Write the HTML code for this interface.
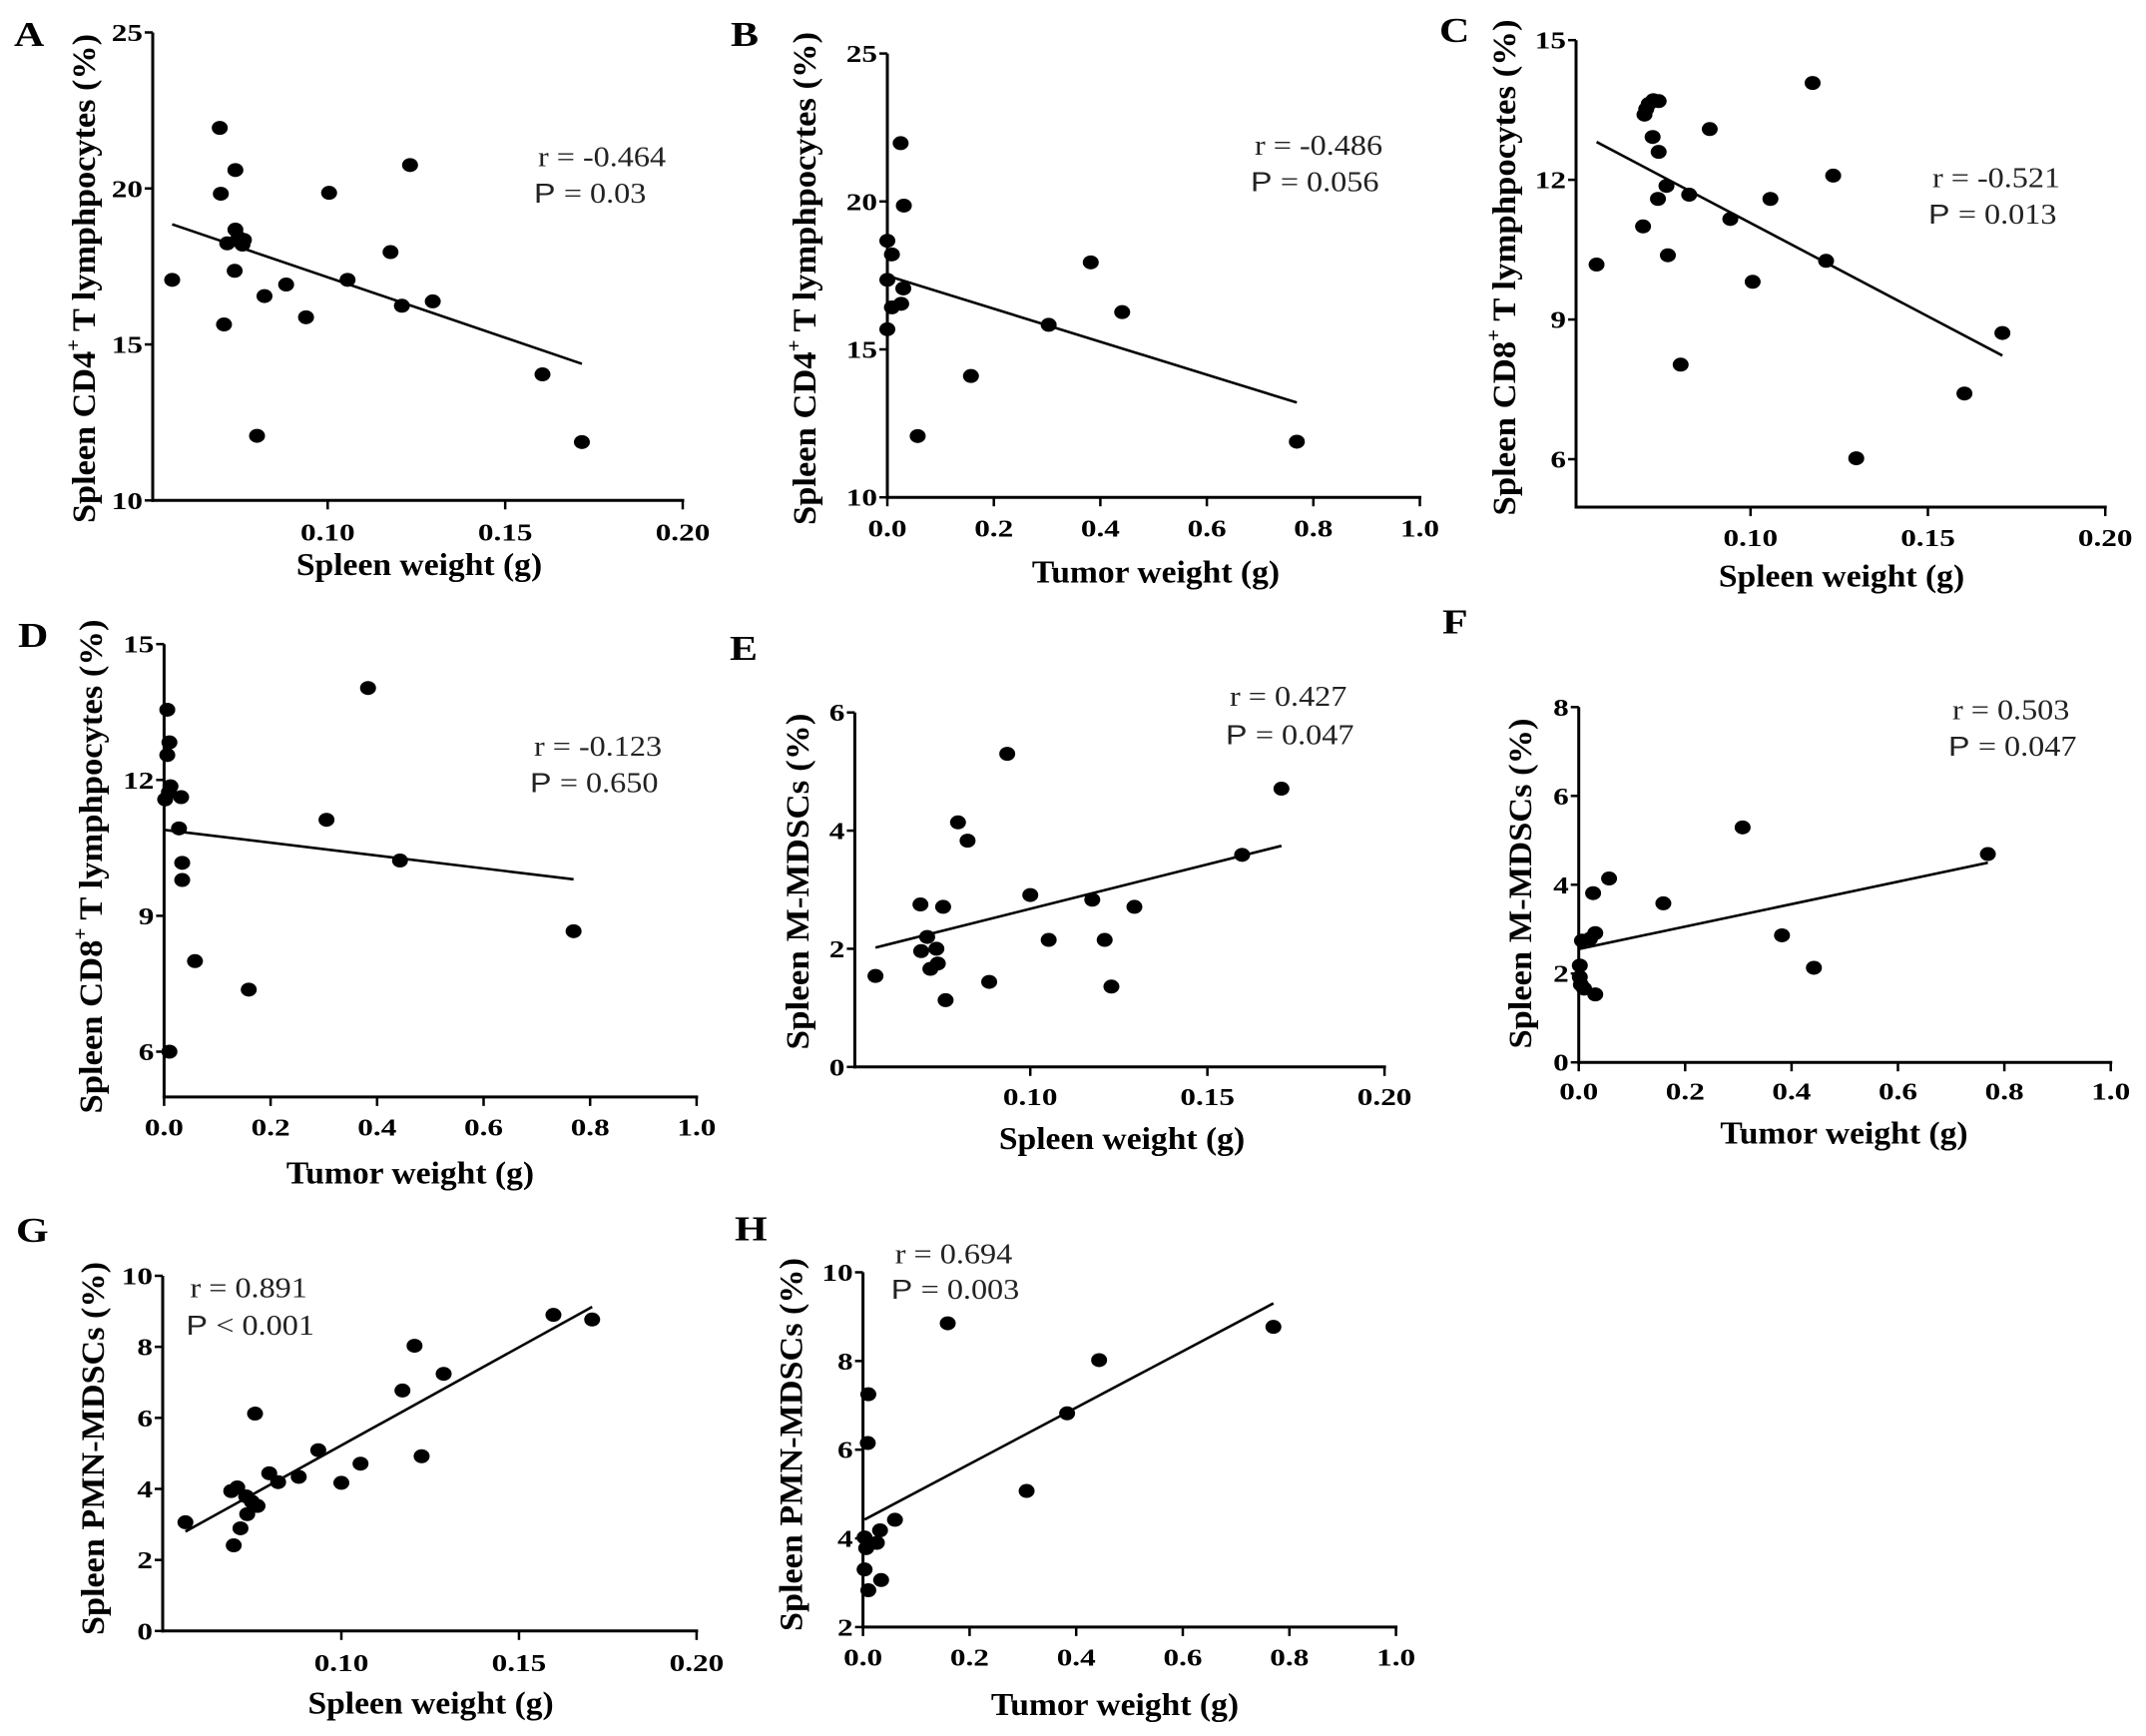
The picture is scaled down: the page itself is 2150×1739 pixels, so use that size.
<!DOCTYPE html>
<html><head><meta charset="utf-8"><style>
html,body{margin:0;padding:0;background:#fff;}
svg{display:block;}
</style></head><body>
<svg id="fig" xmlns="http://www.w3.org/2000/svg" width="2150" height="1739" viewBox="0 0 2150 1739"></svg>
<script>
// ---- data ----
const aX=[0.0562,0.0696,0.0699,0.0708,0.0717,0.0740,0.0738,0.0740,0.0749,0.0764,0.0760,0.0801,0.0822,0.0883,0.0939,0.1004,0.1056,0.1177,0.1209,0.1232,0.1296,0.1605,0.1716];
const aY=[17.07,21.94,19.83,15.64,18.24,20.59,17.36,18.68,18.42,18.35,18.20,12.07,16.55,16.92,15.87,19.86,17.07,17.96,16.24,20.75,16.38,14.04,11.87];
const bX=[0.025,0.031,0.0,0.0086,0.0,0.030,0.026,0.0086,0.0,0.057,0.157,0.303,0.382,0.441,0.769];
const bY=[21.97,19.86,18.67,18.21,17.35,17.06,16.54,16.42,15.68,12.07,14.1,15.83,17.94,16.26,11.88];
const cX=[0.0566,0.0701,0.0706,0.0713,0.0726,0.0741,0.0724,0.0741,0.0697,0.0739,0.0763,0.0767,0.0803,0.0827,0.0885,0.0943,0.1006,0.1056,0.1175,0.1213,0.1233,0.1298,0.1603,0.1710];
const cY=[10.18,13.40,13.52,13.63,13.71,13.69,12.92,12.60,11.00,11.59,11.87,10.38,8.03,11.68,13.09,11.16,9.81,11.59,14.08,10.26,12.09,6.02,7.41,8.71];
const dX=[0.006,0.010,0.006,0.012,0.002,0.009,0.032,0.028,0.034,0.034,0.058,0.159,0.010,0.305,0.383,0.443,0.769];
const dY=[13.55,12.83,12.55,11.86,11.57,11.73,11.62,10.93,10.17,9.79,8.00,7.37,6.00,11.12,14.03,10.22,8.66];
const eX=[0.0563,0.0690,0.0692,0.0709,0.0718,0.0735,0.0739,0.0754,0.0761,0.0796,0.0823,0.0884,0.0935,0.1000,0.1052,0.1175,0.1210,0.1229,0.1294,0.1598,0.1709];
const eY=[1.54,2.75,1.96,2.20,1.66,2.00,1.75,2.71,1.13,4.14,3.83,1.44,5.30,2.91,2.15,2.83,2.15,1.36,2.71,3.59,4.71];
const fX=[0.002,0.002,0.004,0.010,0.031,0.006,0.021,0.031,0.027,0.057,0.159,0.308,0.382,0.442,0.769];
const fY=[2.18,1.92,1.75,1.66,1.53,2.74,2.78,2.91,3.81,4.14,3.58,5.29,2.86,2.13,4.69];
const gX=[0.0561,0.0697,0.0690,0.0707,0.0716,0.0732,0.0735,0.0748,0.0764,0.0757,0.0797,0.0822,0.0880,0.0935,0.1000,0.1054,0.1172,0.1206,0.1226,0.1288,0.1597,0.1706];
const gY=[3.06,2.41,3.94,4.04,2.89,3.79,3.29,3.64,3.52,6.12,4.44,4.19,4.34,5.09,4.17,4.71,6.77,8.03,4.92,7.24,8.90,8.77];
const hX=[0.010,0.009,0.003,0.006,0.003,0.010,0.026,0.032,0.034,0.060,0.159,0.307,0.383,0.443,0.770];
const hY=[7.25,6.15,4.02,3.78,3.30,2.83,3.90,4.18,3.06,4.42,8.85,5.07,6.82,8.02,8.77];

const spleenTicks=[0.10,0.15,0.20];
const spleenTickLabels=["0.10","0.15","0.20"];
const tumorTicks=[0,0.2,0.4,0.6,0.8,1.0];
const tumorTickLabels=["0.0","0.2","0.4","0.6","0.8","1.0"];
const cd4Ticks=[10,15,20,25];
const cd8Ticks=[6,9,12,15];
const mE=[0,2,4,6];
const mF=[0,2,4,6,8];
const pmnG=[0,2,4,6,8,10];
const pmnH=[2,4,6,8,10];
const rTexts=["r = -0.464","r = -0.486","r = -0.521","r = -0.123","r = 0.427","r = 0.503","r = 0.891","r = 0.694"];
const pTexts=["= 0.03","= 0.056","= 0.013","= 0.650","= 0.047","= 0.047","< 0.001","= 0.003"];

// ---- layout (pixel geometry) ----
const panels=[
 {id:'a',L:'A',xs:[0.10,328.3,0.20,684],ys:[10,501.3,25,32.5],yMin:10,yMax:25,ax:153,xEnd:0.20,xd:aX,yd:aY,xt:spleenTicks,xtl:spleenTickLabels,yt:cd4Ticks,
  rx:539,rY:166.5,pY:203,lx:14,ly:46,ytx:85,yty:279,ytLen:490,ytitle:['Spleen CD4','+',' T lymphpocytes (%)'],xtitle:'Spleen weight (g)',xtx:420,xty:576,tly:541.5},
 {id:'b',L:'B',xs:[0,889,1,1422.5],ys:[10,498.2,25,53.6],yMin:10,yMax:25,ax:889,xEnd:1,xd:bX,yd:bY,xt:tumorTicks,xtl:tumorTickLabels,yt:cd4Ticks,
  rx:1257,rY:155,pY:191.3,lx:732,ly:46,ytx:807,yty:279,ytLen:494,ytitle:['Spleen CD4','+',' T lymphpocytes (%)'],xtitle:'Tumor weight (g)',xtx:1158,xty:583.6,tly:537.7},
 {id:'c',L:'C',xs:[0.10,1753.8,0.20,2109.2],ys:[6,460,15,40.2],yMin:4.97,yMax:15,ax:1579,xEnd:0.20,xd:cX,yd:cY,xt:spleenTicks,xtl:spleenTickLabels,yt:cd8Ticks,
  rx:1936,rY:187.5,pY:224,lx:1442,ly:42,ytx:1508,yty:268,ytLen:497,ytitle:['Spleen CD8','+',' T lymphpocytes (%)'],xtitle:'Spleen weight (g)',xtx:1845,xty:587.5,tly:547},
 {id:'d',L:'D',xs:[0,164.4,1,697.9],ys:[6,1053.5,15,645.2],yMin:5,yMax:15,ax:164.4,xEnd:1,xd:dX,yd:dY,xt:tumorTicks,xtl:tumorTickLabels,yt:cd8Ticks,
  rx:535,rY:756.9,pY:793.3,lx:18,ly:647.8,ytx:92,yty:868,ytLen:495,ytitle:['Spleen CD8','+',' T lymphpocytes (%)'],xtitle:'Tumor weight (g)',xtx:411,xty:1185.5,tly:1137.7},
 {id:'e',L:'E',xs:[0.10,1032.2,0.20,1387.1],ys:[0,1068.8,6,713.7],yMin:0,yMax:6,ax:856.4,xEnd:0.20,xd:eX,yd:eY,xt:spleenTicks,xtl:spleenTickLabels,yt:mE,
  rx:1232,rY:707.2,pY:745.4,lx:731,ly:661.2,ytx:800,yty:883,ytLen:337,ytitle:['Spleen M-MDSCs (%)'],xtitle:'Spleen weight (g)',xtx:1124,xty:1151,tly:1107},
 {id:'f',L:'F',xs:[0,1581.7,1,2114.7],ys:[0,1064.2,8,708.3],yMin:0,yMax:8,ax:1581.7,xEnd:1,xd:fX,yd:fY,xt:tumorTicks,xtl:tumorTickLabels,yt:mF,
  rx:1956,rY:720.5,pY:756.9,lx:1445,ly:634.4,ytx:1524,yty:885,ytLen:331,ytitle:['Spleen M-MDSCs (%)'],xtitle:'Tumor weight (g)',xtx:1847.5,xty:1145.3,tly:1101.3},
 {id:'g',L:'G',xs:[0.10,342,0.20,697.9],ys:[0,1633.8,10,1278],yMin:0,yMax:10,ax:163,xEnd:0.20,xd:gX,yd:gY,xt:spleenTicks,xtl:spleenTickLabels,yt:pmnG,
  rx:190.5,rY:1299.4,pY:1336.9,lx:16,ly:1244.2,ytx:94,yty:1451,ytLen:374,ytitle:['Spleen PMN-MDSCs (%)'],xtitle:'Spleen weight (g)',xtx:431.6,xty:1716.5,tly:1673.8},
 {id:'h',L:'H',xs:[0,864.6,1,1398.6],ys:[2,1629.9,10,1274.5],yMin:2,yMax:10,ax:864.6,xEnd:1,xd:hX,yd:hY,xt:tumorTicks,xtl:tumorTickLabels,yt:pmnH,
  rx:896.8,rY:1265.6,pY:1301.2,lx:736,ly:1242.4,ytx:793.5,yty:1447,ytLen:374,ytitle:['Spleen PMN-MDSCs (%)'],xtitle:'Tumor weight (g)',xtx:1117,xty:1718,tly:1668.4}
];

const NS='http://www.w3.org/2000/svg';
const svg=document.getElementById('fig');
const SERIF='"Liberation Serif", serif';
const SANS='"Liberation Sans", sans-serif';
function mk(tag,parent){const e=document.createElementNS(NS,tag);parent.appendChild(e);return e;}
function stext(parent,x,y,str,size,anchor,sx,weight){
  const t=mk('text',parent);
  t.setAttribute('transform','translate('+x+','+y+') scale('+sx+',1)');
  t.setAttribute('font-family',SERIF);
  t.setAttribute('font-size',size);
  t.setAttribute('font-weight',weight);
  t.setAttribute('text-anchor',anchor);
  t.textContent=str;
  return t;
}

panels.forEach((p,i)=>{
  const g=mk('g',svg);
  
  
  const X=v=>p.xs[1]+(v-p.xs[0])*(p.xs[3]-p.xs[1])/(p.xs[2]-p.xs[0]);
  const Y=v=>p.ys[1]+(v-p.ys[0])*(p.ys[3]-p.ys[1])/(p.ys[2]-p.ys[0]);
  const baseY=Y(p.yMin), topY=Y(p.yMax), xEndPx=X(p.xEnd);

  // panel letter
  const lt=stext(g,p.lx,p.ly,p.L,35,'start',1.2,'bold');
  
  

  // axes
  const ya=mk('line',g);
  
  
  ya.setAttribute('x1',p.ax);ya.setAttribute('x2',p.ax);ya.setAttribute('y1',topY);ya.setAttribute('y2',baseY+1.5);
  ya.setAttribute('stroke','#000');ya.setAttribute('stroke-width',3);
  const xa=mk('line',g);
  
  
  xa.setAttribute('x1',p.ax-1.5);xa.setAttribute('x2',xEndPx+1.5);xa.setAttribute('y1',baseY);xa.setAttribute('y2',baseY);
  xa.setAttribute('stroke','#000');xa.setAttribute('stroke-width',3);

  // y ticks
  p.yt.forEach(v=>{
    const ty=Y(v);
    const tk=mk('line',g);
    
    
    tk.setAttribute('x1',p.ax-8);tk.setAttribute('x2',p.ax);tk.setAttribute('y1',ty);tk.setAttribute('y2',ty);
    tk.setAttribute('stroke','#000');tk.setAttribute('stroke-width',2.5);
    const tl=stext(g,p.ax-10,ty+8.5,String(v),24,'end',1.3,'bold');
    
    
  });
  // x ticks
  p.xt.forEach((v,k)=>{
    const tx=X(v);
    const tk=mk('line',g);
    
    
    tk.setAttribute('x1',tx);tk.setAttribute('x2',tx);tk.setAttribute('y1',baseY);tk.setAttribute('y2',baseY+9);
    tk.setAttribute('stroke','#000');tk.setAttribute('stroke-width',2.5);
    const tl=stext(g,tx,p.tly,p.xtl[k],24,'middle',1.3,'bold');
    
    
  });

  // axis titles
  const xt=stext(g,p.xtx,p.xty,p.xtitle,32,'middle',1.05,'bold');
  
  
  const yt=mk('text',g);
  
  
  yt.setAttribute('transform','translate('+p.ytx+','+p.yty+') rotate(-90)');
  yt.setAttribute('font-family',SERIF);yt.setAttribute('font-size',33);yt.setAttribute('font-weight','bold');
  yt.setAttribute('text-anchor','middle');yt.setAttribute('dominant-baseline','central');
  yt.setAttribute('textLength',p.ytLen);yt.setAttribute('lengthAdjust','spacingAndGlyphs');
  p.ytitle.forEach((s,k)=>{
    const ts=mk('tspan',yt);
    ts.textContent=s;
    if(s==='+'){ts.setAttribute('font-size',20);ts.setAttribute('baseline-shift','super');}
  });

  // regression line (least squares from data)
  const n=p.xd.length;
  let sx=0,sy=0,sxx=0,sxy=0;
  for(let k=0;k<n;k++){sx+=p.xd[k];sy+=p.yd[k];sxx+=p.xd[k]*p.xd[k];sxy+=p.xd[k]*p.yd[k];}
  const slope=(n*sxy-sx*sy)/(n*sxx-sx*sx), icpt=(sy-slope*sx)/n;
  const x0=Math.min(...p.xd), x1=Math.max(...p.xd);
  const fl=mk('line',g);
  
  
  fl.setAttribute('x1',X(x0));fl.setAttribute('y1',Y(icpt+slope*x0));
  fl.setAttribute('x2',X(x1));fl.setAttribute('y2',Y(icpt+slope*x1));
  fl.setAttribute('stroke','#000');fl.setAttribute('stroke-width',2.6);

  // points
  for(let k=0;k<n;k++){
    const c=mk('ellipse',g);
    
    
    c.setAttribute('cx',X(p.xd[k]));c.setAttribute('cy',Y(p.yd[k]));
    c.setAttribute('rx',8);c.setAttribute('ry',7);c.setAttribute('fill','#000');
  }

  // stats annotation
  const rt=stext(g,p.rx,p.rY,rTexts[i],28,'start',1.15,'normal');
  
  
  rt.setAttribute('fill','#222');
  const pt=mk('text',g);
  
  
  pt.setAttribute('transform','translate('+(p.rx-4)+','+p.pY+') scale(1.15,1)');
  pt.setAttribute('font-size',28);pt.setAttribute('fill','#222');
  const t1=mk('tspan',pt);t1.setAttribute('font-family',SANS);t1.textContent='P ';
  const t2=mk('tspan',pt);t2.setAttribute('font-family',SERIF);t2.textContent=pTexts[i];
});
</script>
</body></html>
